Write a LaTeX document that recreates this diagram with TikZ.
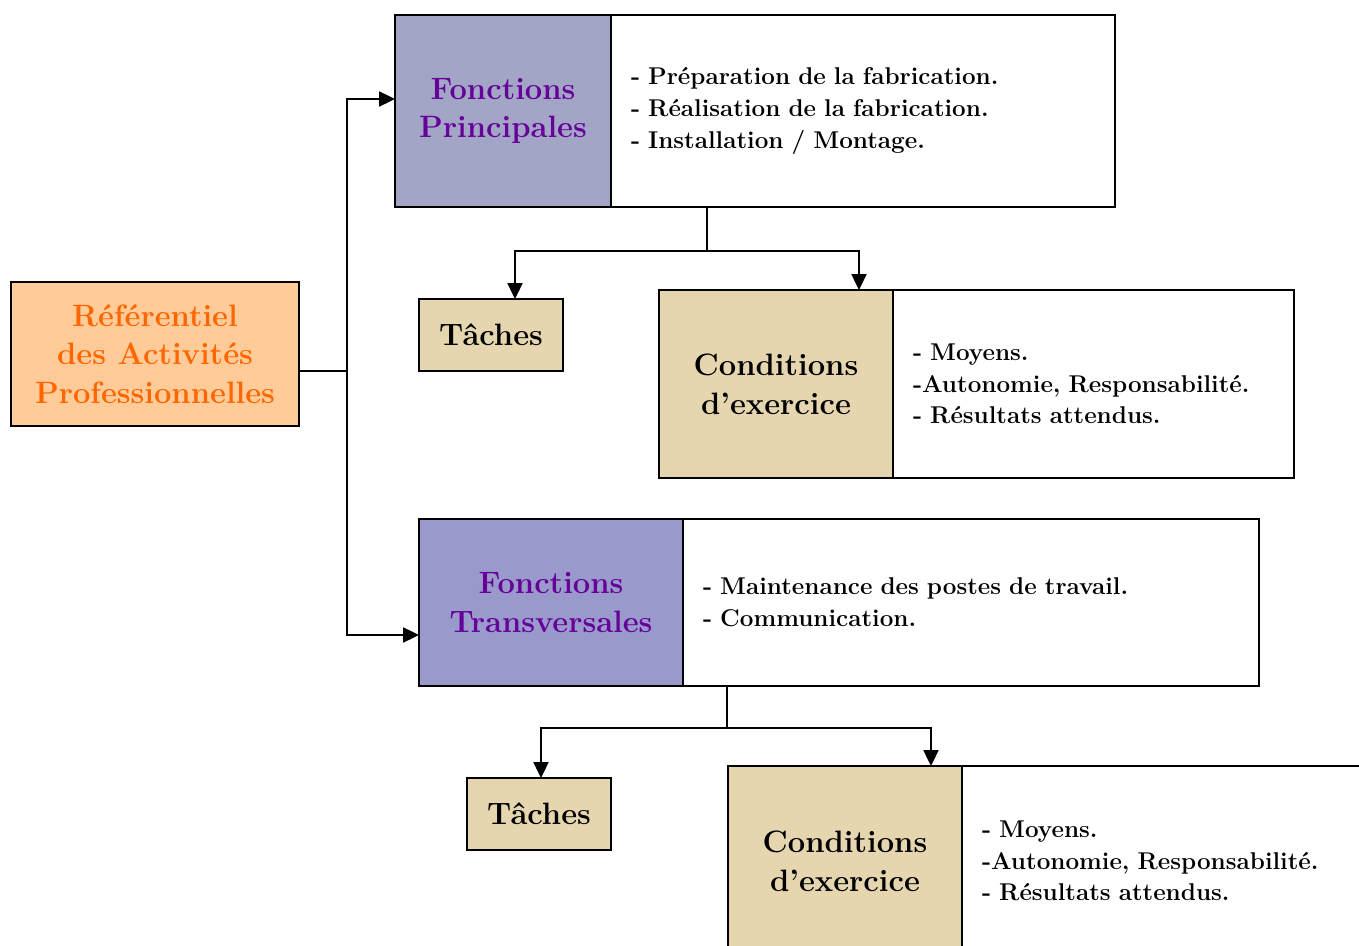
\documentclass[tikz,border=0pt]{standalone}
\usetikzlibrary{arrows.meta}

\definecolor{refFill}{RGB}{255,204,153}
\definecolor{refText}{RGB}{255,102,0}
\definecolor{fpFill}{RGB}{162,165,198}
\definecolor{ftFill}{RGB}{153,153,204}
\definecolor{tanFill}{RGB}{230,214,176}
\definecolor{headText}{RGB}{102,0,153}

\begin{document}
\begin{tikzpicture}[x=0.02cm,y=-0.02cm,
  box/.style={draw, line width=1.1pt, inner sep=0pt, outer sep=0pt, anchor=north west},
  sz/.style 2 args={minimum width=#1*0.02cm, minimum height=#2*0.02cm},
  head/.style={box, align=center, font=\fontsize{17.6}{22}\selectfont\bfseries},
  list/.style 2 args={box, fill=white, align=left, inner xsep=0.4cm,
    minimum width=#1*0.02cm, text width=#1*0.02cm-0.8cm, minimum height=#2*0.02cm,
    font=\fontsize{13.8}{18}\selectfont\bfseries},
  arr/.style={line width=1.1pt, -{Triangle[length=9pt,width=8.5pt]}},
  link/.style={line width=1.1pt}]

\clip (0,0) rectangle (1359,946);

% root box
\node[head, sz={288}{144}, fill=refFill, text=refText] (ref) at (11,282)
  {Référentiel\\des Activités\\Professionnelles};

% main functions
\node[head, sz={216}{192}, fill=fpFill, text=headText] (fp) at (395,15)
  {Fonctions\\Principales};
\node[list={504}{192}] (fpr) at (611,15)
  {- Préparation de la fabrication.\\- Réalisation de la fabrication.\\- Installation / Montage.};

\node[head, sz={144}{72}, fill=tanFill] (t1) at (419,299) {Tâches};
\node[head, sz={234}{188}, fill=tanFill] (c1) at (659,290) {Conditions\\d’exercice};
\node[list={401}{188}] (c1r) at (893,290)
  {- Moyens.\\-Autonomie, Responsabilité.\\- Résultats attendus.};

% cross functions
\node[head, sz={264}{167}, fill=ftFill, text=headText] (ft) at (419,519)
  {Fonctions\\Transversales};
\node[list={576}{167}] (ftr) at (683,519)
  {- Maintenance des postes de travail.\\- Communication.};

\node[head, sz={144}{72}, fill=tanFill] (t2) at (467,778) {Tâches};
\node[head, sz={234}{190}, fill=tanFill] (c2) at (728,766) {Conditions\\d’exercice};
\node[list={440}{190}] (c2r) at (962,766)
  {- Moyens.\\-Autonomie, Responsabilité.\\- Résultats attendus.};

% connectors from the root
\coordinate (rj) at (347,371);
\draw[link] ([yshift=-0.34cm]ref.east) -- (rj);
\draw[arr] (rj) |- ([yshift=0.24cm]fp.west);
\draw[arr] (rj) |- ([yshift=-0.65cm]ft.west);

% main functions branch
\coordinate (j1) at (707,251);
\draw[link] ([xshift=1.92cm]fpr.south west) -- (j1);
\draw[arr] (j1) -| ([xshift=0.48cm]t1.north);
\draw[arr] (j1) -| ([xshift=1.66cm]c1.north);

% cross functions branch
\coordinate (j2) at (727,728);
\draw[link] ([xshift=0.88cm]ftr.south west) -- (j2);
\draw[arr] (j2) -| ([xshift=0.04cm]t2.north);
\draw[arr] (j2) -| ([xshift=1.72cm]c2.north);

\end{tikzpicture}
\end{document}
